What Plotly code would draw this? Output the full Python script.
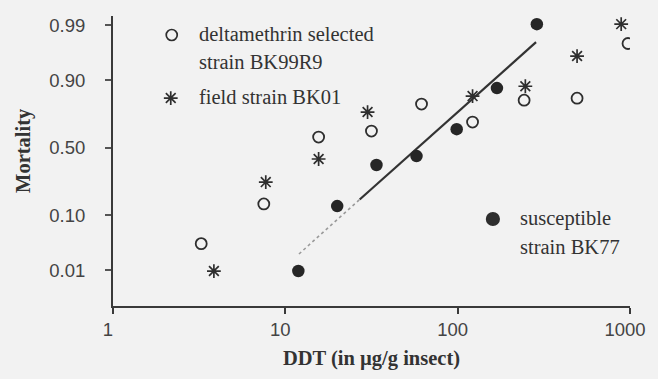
import plotly.graph_objects as go
from statistics import NormalDist

nd = NormalDist()
def probit(p):
    return [nd.inv_cdf(v) for v in p]

# deltamethrin selected strain BK99R9 (open circles)
delta_dose = [3.25, 7.5, 15.6, 31.6, 61.7, 122, 243, 493, 974]
delta_mort = [0.034, 0.142, 0.579, 0.623, 0.796, 0.686, 0.816, 0.826, 0.976]

# field strain BK01 (asterisks)
field_dose = [3.85, 7.7, 15.6, 30, 122, 247, 493, 889]
field_mort = [0.0095, 0.256, 0.414, 0.750, 0.836, 0.878, 0.959, 0.9905]

# susceptible strain BK77 (filled dots)
sus_dose = [11.9, 20, 33.8, 57.7, 98.7, 169, 288]
sus_mort = [0.0095, 0.133, 0.37, 0.436, 0.637, 0.871, 0.9905]

# probit regression line for susceptible strain (faint lower part, dark upper part)
fit_faint_dose = [12, 27]
fit_faint_mort = [0.0216, 0.162]
fit_dark_dose = [27, 285]
fit_dark_mort = [0.162, 0.9774]

ytick_vals = [0.01, 0.10, 0.50, 0.90, 0.99]
ytick_text = ["0.01", "0.10", "0.50", "0.90", "0.99"]
xtick_vals = [1, 10, 100, 1000]
xtick_text = ["1", "10", "100", "1000"]

legend_delta = ["deltamethrin selected", "strain BK99R9"]
legend_field = ["field strain BK01"]
legend_sus = ["susceptible", "strain BK77"]

BG = "#f2f2f2"
INK = "#2e2e2e"
serif = "Liberation Serif, Times New Roman, serif"
sans = "Liberation Sans, Arial, sans-serif"

fig = go.Figure()

fig.add_trace(go.Scatter(x=fit_faint_dose, y=probit(fit_faint_mort), mode="lines",
                         line=dict(color="#9a9a9a", width=1.6, dash="dot"), showlegend=False))
fig.add_trace(go.Scatter(x=fit_dark_dose, y=probit(fit_dark_mort), mode="lines",
                         line=dict(color="#333333", width=2.2), showlegend=False))
fig.add_trace(go.Scatter(x=delta_dose, y=probit(delta_mort), mode="markers",
                         marker=dict(symbol="circle-open", size=11, color=INK,
                                     line=dict(width=1.8, color=INK)), showlegend=False))
fig.add_trace(go.Scatter(x=field_dose, y=probit(field_mort), mode="markers",
                         marker=dict(symbol="asterisk-open", size=11.5, color=INK,
                                     line=dict(width=1.7, color=INK)), showlegend=False))
fig.add_trace(go.Scatter(x=sus_dose, y=probit(sus_mort), mode="markers",
                         marker=dict(symbol="circle", size=12.5, color="#262626"),
                         showlegend=False))

# legend markers on an overlay axis (range 0..1 over the plot area)
leg_items = [
    (0.1136, 0.9345, "circle-open", 11),
    (0.1117, 0.717, "asterisk-open", 11.5),
    (0.7348, 0.300, "circle", 12.5),
]
for lx, ly, sym, sz in leg_items:
    fig.add_trace(go.Scatter(x=[lx], y=[ly], mode="markers", xaxis="x2", yaxis="y2",
                             marker=dict(symbol=sym, size=sz, color=INK,
                                         line=dict(width=1.7, color=INK)),
                             showlegend=False, hoverinfo="skip"))

text_blocks = [
    (0.1648, [0.9345, 0.838], legend_delta),
    (0.1648, [0.717], legend_field),
    (0.786, [0.300, 0.200], legend_sus),
]
for tx, ys, lines in text_blocks:
    for ty, line in zip(ys, lines):
        fig.add_annotation(x=tx, y=ty, xref="x2", yref="y2", text=line, showarrow=False,
                           xanchor="left", yanchor="middle", align="left",
                           xshift=-1, yshift=1,
                           font=dict(family=serif, size=20.5, color="#333333"))

# y-axis title (placed slightly above the plot-area centre, as in the original)
fig.add_annotation(x=-0.1723, y=0.538, xref="paper", yref="paper", text="Mortality",
                   textangle=-90, showarrow=False, xanchor="center", yanchor="middle",
                   font=dict(family=serif, size=20.5, color="#333333", weight="bold"))

fig.update_layout(
    width=658, height=379,
    margin=dict(l=113, r=17, t=16, b=73),
    paper_bgcolor=BG, plot_bgcolor=BG,
    xaxis=dict(type="log", range=[0, 3], tickvals=xtick_vals, ticktext=xtick_text,
               showline=True, linecolor="#3a3a3a", linewidth=1.6, mirror=False,
               ticks="outside", ticklen=6, tickwidth=1.5, tickcolor="#3a3a3a",
               ticklabelshift=-5, ticklabeloverflow="allow",
               showgrid=False, zeroline=False,
               tickfont=dict(family=sans, size=18.5, color="#444444"),
               title=dict(text="DDT (in µg/g insect)", standoff=12,
                          font=dict(family=serif, size=20.5, color="#333333", weight="bold"))),
    yaxis=dict(range=[-3.01, 2.50], tickvals=probit(ytick_vals), ticktext=ytick_text,
               showline=True, linecolor="#3a3a3a", linewidth=2, mirror=False,
               ticks="outside", ticklen=6, tickwidth=1.5, tickcolor="#555555",
               ticklabelstandoff=16,
               showgrid=False, zeroline=False,
               tickfont=dict(family=sans, size=18.5, color="#444444")),
    xaxis2=dict(overlaying="x", range=[0, 1], visible=False),
    yaxis2=dict(overlaying="y", range=[0, 1], visible=False),
    showlegend=False,
)

fig.write_html("out.html")
